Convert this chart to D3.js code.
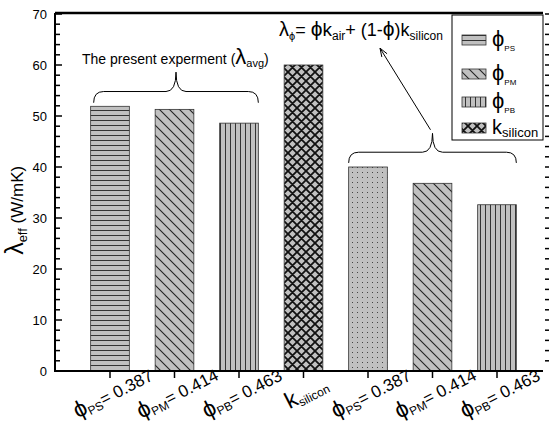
<!DOCTYPE html>
<html>
<head>
<meta charset="utf-8">
<script src="https://cdn.jsdelivr.net/npm/d3@7"></script>
<style>
  body { margin: 0; background: #fff; }
  svg text { font-family: "Liberation Sans", Arial, sans-serif; fill: #000; }
</style>
</head>
<body>
<svg id="viz"></svg>
<script>
// ----------------------------------------------------------------------------------------------------------------
// DATA

var categories = ["ps_avg", "pm_avg", "pb_avg", "silicon", "ps_calc", "pm_calc", "pb_calc"];
var values = [51.9, 51.3, 48.6, 60.0, 40.0, 36.8, 32.6];
var fills = ["horiz", "diag", "vert", "cross", "dots", "diag", "vert"];
var labelMain = ["\u03d5", "\u03d5", "\u03d5", "k", "\u03d5", "\u03d5", "\u03d5"];
var labelSub = ["PS", "PM", "PB", "silicon", "PS", "PM", "PB"];
var labelRest = ["= 0.387", "= 0.414", "= 0.463", "", "= 0.387", "= 0.414", "= 0.463"];

var legendMain = ["\u03d5", "\u03d5", "\u03d5", "k"];
var legendSub = ["PS", "PM", "PB", "silicon"];
var legendFill = ["horiz", "diag", "vert", "cross"];

var yTicks = [0, 10, 20, 30, 40, 50, 60, 70];

// ----------------------------------------------------------------------------------------------------------------
// INITIAL SETUP

var w = 549;
var h = 424;
var viz = d3.select("#viz").attr("width", w).attr("height", h);

var plotL = 55, plotR = 543, plotT = 13, plotB = 371;

var x = d3.scaleBand()
  .domain(categories)
  .range([77.75, 529.25])
  .paddingInner(0.4)
  .paddingOuter(0.2);

var y = d3.scaleLinear().domain([0, 70]).range([plotB, plotT + 1]);

// ----------------------------------------------------------------------------------------------------------------
// PATTERNS

var defs = viz.append("defs");
var grey = "#c0c0c0";

function pattern(id, pw, ph) {
  var p = defs.append("pattern")
    .attr("id", id)
    .attr("patternUnits", "userSpaceOnUse")
    .attr("width", pw)
    .attr("height", ph);
  p.append("rect").attr("width", pw).attr("height", ph).attr("fill", grey);
  return p;
}

var ph = pattern("horiz", 8, 5);
ph.append("line").attr("x1", 0).attr("x2", 8).attr("y1", 0.5).attr("y2", 0.5)
  .attr("stroke", "#333").attr("stroke-width", 1);

var pd = pattern("diag", 10, 10);
pd.append("path").attr("d", "M-5,5 L5,15 M0,0 L10,10 M5,-5 L15,5")
  .attr("stroke", "#222").attr("stroke-width", 1.1);

var pv = pattern("vert", 5, 8);
pv.append("line").attr("x1", 0.5).attr("x2", 0.5).attr("y1", 0).attr("y2", 8)
  .attr("stroke", "#333").attr("stroke-width", 1);

var pc = pattern("cross", 9, 9);
pc.append("path").attr("d", "M-4.5,4.5 L4.5,13.5 M0,0 L9,9 M4.5,-4.5 L13.5,4.5 M-4.5,4.5 L4.5,-4.5 M0,9 L9,0 M4.5,13.5 L13.5,4.5")
  .attr("stroke", "#111").attr("stroke-width", 1.8);

var pdots = pattern("dots", 5, 5);
pdots.append("rect").attr("x", 2).attr("y", 2).attr("width", 1).attr("height", 1).attr("fill", "#444");

// ----------------------------------------------------------------------------------------------------------------
// BARS

viz.selectAll("rect.bar")
  .data(values)
  .enter()
  .append("rect")
  .attr("class", "bar")
  .attr("x", function(d, i) { return x(categories[i]); })
  .attr("width", x.bandwidth())
  .attr("y", function(d) { return y(d); })
  .attr("height", function(d) { return y(0) - y(d); })
  .attr("fill", function(d, i) { return "url(#" + fills[i] + ")"; })
  .attr("stroke", "#333")
  .attr("stroke-width", 0.8);

// ----------------------------------------------------------------------------------------------------------------
// AXES

var minor = d3.range(0, 71, 2);

// left axis, ticks pointing inward
var gl = viz.append("g").attr("transform", "translate(" + plotL + ",0)");
gl.append("line").attr("x1", 0).attr("x2", 0).attr("y1", plotT).attr("y2", plotB)
  .attr("stroke", "#000").attr("stroke-width", 2);
gl.selectAll("line.tk").data(minor).enter().append("line")
  .attr("class", "tk")
  .attr("x1", 0)
  .attr("x2", function(d) { return d % 10 === 0 ? 7 : 5; })
  .attr("y1", function(d) { return y(d); })
  .attr("y2", function(d) { return y(d); })
  .attr("stroke", "#000").attr("stroke-width", 1.5);
gl.selectAll("text").data(yTicks).enter().append("text")
  .attr("x", -8)
  .attr("y", function(d) { return y(d); })
  .attr("dy", "0.35em")
  .attr("text-anchor", "end")
  .attr("font-size", 13)
  .text(function(d) { return d; });

// top frame
viz.append("line").attr("x1", plotL).attr("x2", plotR).attr("y1", plotT).attr("y2", plotT)
  .attr("stroke", "#000").attr("stroke-width", 2.5);

// bottom axis
viz.append("line").attr("x1", plotL - 1).attr("x2", plotR).attr("y1", plotB).attr("y2", plotB)
  .attr("stroke", "#000").attr("stroke-width", 2);
viz.selectAll("line.xt").data(categories).enter().append("line")
  .attr("class", "xt")
  .attr("x1", function(d) { return x(d) + x.bandwidth() / 2; })
  .attr("x2", function(d) { return x(d) + x.bandwidth() / 2; })
  .attr("y1", plotB)
  .attr("y2", plotB + 7)
  .attr("stroke", "#000").attr("stroke-width", 1.5);

// right side: only outward ticks
viz.selectAll("line.rt").data(minor.slice(1)).enter().append("line")
  .attr("class", "rt")
  .attr("x1", plotR + 2)
  .attr("x2", plotR + 6)
  .attr("y1", function(d) { return y(d); })
  .attr("y2", function(d) { return y(d); })
  .attr("stroke", "#000").attr("stroke-width", 1.5);

// category labels
var xl = viz.selectAll("text.xl").data(categories).enter().append("text")
  .attr("class", "xl")
  .attr("text-anchor", "middle")
  .attr("transform", function(d) {
    return "translate(" + (x(d) + x.bandwidth() / 2 + 6) + "," + (plotB + 28) + ") rotate(-27)";
  });
xl.append("tspan").attr("font-size", 23).text(function(d, i) { return labelMain[i]; });
xl.append("tspan").attr("font-size", 12).attr("dy", 3).text(function(d, i) { return labelSub[i]; });
xl.append("tspan").attr("font-size", 17).attr("dy", -3).text(function(d, i) { return labelRest[i]; });

// y axis title
var yt = viz.append("text")
  .attr("text-anchor", "middle")
  .attr("transform", "translate(23," + y(31.5) + ") rotate(-90)");
yt.append("tspan").attr("font-size", 25).text("\u03bb");
yt.append("tspan").attr("font-size", 13).attr("dy", 4).text("eff");
yt.append("tspan").attr("font-size", 17).attr("dy", -4).text(" (W/mK)");

// ----------------------------------------------------------------------------------------------------------------
// LEGEND

var lg = viz.append("g");
lg.append("rect")
  .attr("x", 452).attr("y", 15).attr("width", plotR - 452).attr("height", 125)
  .attr("fill", "#fff").attr("stroke", "#000").attr("stroke-width", 1);

var legendY = [40, 74, 102, 128];
lg.selectAll("rect.sw").data(legendFill).enter().append("rect")
  .attr("class", "sw")
  .attr("x", 462).attr("width", 24)
  .attr("y", function(d, i) { return legendY[i] - 5; })
  .attr("height", 10)
  .attr("fill", function(d) { return "url(#" + d + ")"; })
  .attr("stroke", "#333").attr("stroke-width", 0.8);
var lt = lg.selectAll("text.lt").data(legendMain).enter().append("text")
  .attr("class", "lt")
  .attr("x", 492)
  .attr("y", function(d, i) { return legendY[i] + 6; });
lt.append("tspan").attr("font-size", function(d, i) { return i === 3 ? 20 : 22; })
  .text(function(d) { return d; });
lt.append("tspan")
  .attr("font-size", function(d, i) { return i === 3 ? 13 : 8; })
  .attr("dy", function(d, i) { return i === 3 ? 3 : 5; })
  .text(function(d, i) { return legendSub[i]; });

// ----------------------------------------------------------------------------------------------------------------
// ANNOTATIONS

function brace(x1, x2, yEnd, yH, yTip) {
  var xm = (x1 + x2) / 2, r = 10;
  return "M" + x1 + "," + yEnd +
    " Q" + x1 + "," + yH + " " + (x1 + r) + "," + yH +
    " L" + (xm - r) + "," + yH +
    " Q" + xm + "," + yH + " " + xm + "," + yTip +
    " Q" + xm + "," + yH + " " + (xm + r) + "," + yH +
    " L" + (x2 - r) + "," + yH +
    " Q" + x2 + "," + yH + " " + x2 + "," + yEnd;
}

var b1x1 = x(categories[0]) + 3, b1x2 = x(categories[2]) + x.bandwidth();
viz.append("path")
  .attr("d", brace(b1x1, b1x2, y(52.6), y(54.8), y(58.6)))
  .attr("fill", "none").attr("stroke", "#000").attr("stroke-width", 1);

var b2x1 = x(categories[4]), b2x2 = x(categories[6]) + x.bandwidth();
viz.append("path")
  .attr("d", brace(b2x1, b2x2, y(40.8), y(42.9), y(46.6)))
  .attr("fill", "none").attr("stroke", "#000").attr("stroke-width", 1);

var t1 = viz.append("text").attr("x", 82).attr("y", y(60.2));
t1.append("tspan").attr("font-size", 14).text("The present experment (");
t1.append("tspan").attr("font-size", 22).text("\u03bb");
t1.append("tspan").attr("font-size", 11).attr("dy", 3).text("avg");
t1.append("tspan").attr("font-size", 14).attr("dy", -3).text(")");

var t2 = viz.append("text").attr("x", 279).attr("y", y(65.7));
t2.append("tspan").attr("font-size", 20).text("\u03bb");
t2.append("tspan").attr("font-size", 11).attr("dy", 4).text("\u03d5");
t2.append("tspan").attr("font-size", 18).attr("dy", -4).text("= ");
t2.append("tspan").attr("font-size", 21).text("\u03d5");
t2.append("tspan").attr("font-size", 19).text("k");
t2.append("tspan").attr("font-size", 12).attr("dy", 4).text("air");
t2.append("tspan").attr("font-size", 18).attr("dy", -4).text("+ (1-");
t2.append("tspan").attr("font-size", 21).text("\u03d5");
t2.append("tspan").attr("font-size", 18).text(")k");
t2.append("tspan").attr("font-size", 12).attr("dy", 4).text("silicon");

// arrow from the second brace to the formula
var ax1 = (b2x1 + b2x2) / 2 - 2, ay1 = y(47.3), ax2 = 380, ay2 = y(63.3);
viz.append("line").attr("x1", ax1).attr("y1", ay1).attr("x2", ax2).attr("y2", ay2)
  .attr("stroke", "#000").attr("stroke-width", 1);
var ang = Math.atan2(ay2 - ay1, ax2 - ax1);
var hl = 9, ha = 0.35;
viz.append("path")
  .attr("d", "M" + (ax2 - hl * Math.cos(ang - ha)) + "," + (ay2 - hl * Math.sin(ang - ha)) +
    " L" + ax2 + "," + ay2 +
    " L" + (ax2 - hl * Math.cos(ang + ha)) + "," + (ay2 - hl * Math.sin(ang + ha)))
  .attr("fill", "none").attr("stroke", "#000").attr("stroke-width", 1);
</script>
</body>
</html>
